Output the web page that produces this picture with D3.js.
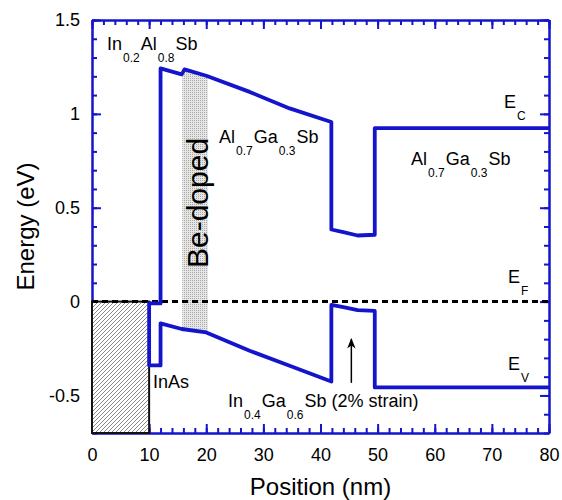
<!DOCTYPE html>
<html>
<head>
<meta charset="utf-8">
<script src="https://cdn.jsdelivr.net/npm/d3@7"></script>
<style>
  body { margin: 0; background: #fff; }
  text { font-family: "Liberation Sans", Arial, sans-serif; }
</style>
</head>
<body>
<div id="chart"></div>
<script>
// band edges (nm, eV)
const ecX = [10, 12, 12, 15.7, 16.2, 20, 27.6, 34.6, 41.9, 41.9, 44, 46.5, 49.5, 49.5, 80];
const ecE = [-0.01, -0.01, 1.242, 1.21, 1.237, 1.203, 1.117, 1.029, 0.957, 0.384, 0.37, 0.352, 0.356, 0.924, 0.924];
const evX = [10, 10, 12, 12, 15.7, 20, 27.6, 34.6, 41.9, 41.9, 44, 46.5, 49.5, 49.5, 80];
const evE = [0, -0.34, -0.34, -0.116, -0.146, -0.164, -0.262, -0.342, -0.426, -0.018, -0.03, -0.045, -0.05, -0.457, -0.457];
const efX = [0, 80];
const efE = [0, 0];
const dopedRange = [15.8, 20.3];
const contactRange = [0, 10];
const xTicks = [0, 10, 20, 30, 40, 50, 60, 70, 80];
const yTicks = [-0.5, 0, 0.5, 1, 1.5];

const width = 562;
const height = 500;
const margin = { top: 20, right: 13, bottom: 67, left: 92 };
const blue = "#1414cc";

const svg = d3.select("#chart").append("svg")
    .attr("width", width)
    .attr("height", height);

const x = d3.scaleLinear().domain([0, 80]).range([margin.left, width - margin.right]);
const y = d3.scaleLinear().domain([-0.7, 1.5]).range([height - margin.bottom, margin.top]);

const defs = svg.append("defs");
const hatch = defs.append("pattern")
    .attr("id", "hatch")
    .attr("patternUnits", "userSpaceOnUse")
    .attr("width", 4).attr("height", 4);
hatch.append("rect").attr("width", 4).attr("height", 4).attr("fill", "#fff");
hatch.append("path").attr("d", "M-1,1 L1,-1 M0,4 L4,0 M3,5 L5,3")
    .attr("stroke", "#8a8a8a").attr("stroke-width", 1);

const dots = defs.append("pattern")
    .attr("id", "dots")
    .attr("patternUnits", "userSpaceOnUse")
    .attr("width", 2).attr("height", 2);
dots.append("rect").attr("width", 2).attr("height", 2).attr("fill", "#e6e6e6");
dots.append("rect").attr("width", 1).attr("height", 1).attr("fill", "#a8a8a8");

defs.append("clipPath").attr("id", "dopedClip")
    .append("rect")
    .attr("x", x(dopedRange[0]))
    .attr("width", x(dopedRange[1]) - x(dopedRange[0]))
    .attr("y", 0).attr("height", height);

defs.append("marker")
    .attr("id", "arrow")
    .attr("viewBox", "0 0 10 10")
    .attr("refX", 9).attr("refY", 5)
    .attr("markerWidth", 7).attr("markerHeight", 7)
    .attr("orient", "auto")
    .append("path")
    .attr("d", "M0,1 L10,5 L0,9 L3,5 Z")
    .attr("fill", "#000");

const ec = ecX.map((v, i) => [v, ecE[i]]);
const ev = evX.map((v, i) => [v, evE[i]]);

// Be-doped shading between the band edges
const poly = ec.concat(ev.slice().reverse());
svg.append("path")
    .attr("d", d3.line().x(d => x(d[0])).y(d => y(d[1]))(poly) + "Z")
    .attr("fill", "url(#dots)")
    .attr("clip-path", "url(#dopedClip)");

// axes (ticks inward, mirrored)
const tickText = g => g.selectAll("text").style("font-size", "18px").attr("fill", "#000");
const styleAxis = g => {
    g.selectAll(".domain").attr("stroke", blue).attr("stroke-width", 2);
    g.selectAll(".tick line").attr("stroke", blue).attr("stroke-width", 2);
};
const minorX = d3.range(0, 81, 2);
const minorY = d3.range(-7, 16).map(d => d / 10);

svg.append("g")
    .attr("transform", `translate(0,${y(-0.7)})`)
    .call(d3.axisBottom(x).tickValues(minorX).tickSizeInner(-5).tickSizeOuter(0).tickFormat(""))
    .call(styleAxis);
svg.append("g")
    .attr("transform", `translate(0,${y(-0.7)})`)
    .call(d3.axisBottom(x).tickValues(xTicks).tickSizeInner(-9).tickSizeOuter(0).tickPadding(15).tickFormat(d3.format("d")))
    .call(styleAxis).call(tickText);
svg.append("g")
    .attr("transform", `translate(0,${y(1.5)})`)
    .call(d3.axisTop(x).tickValues(minorX).tickSizeInner(-5).tickSizeOuter(0).tickFormat(""))
    .call(styleAxis);
svg.append("g")
    .attr("transform", `translate(0,${y(1.5)})`)
    .call(d3.axisTop(x).tickValues(xTicks).tickSizeInner(-9).tickSizeOuter(0).tickFormat(""))
    .call(styleAxis);

svg.append("g")
    .attr("transform", `translate(${x(0)},0)`)
    .call(d3.axisLeft(y).tickValues(minorY).tickSizeInner(-5).tickSizeOuter(0).tickFormat(""))
    .call(styleAxis);
svg.append("g")
    .attr("transform", `translate(${x(0)},0)`)
    .call(d3.axisLeft(y).tickValues(yTicks).tickSizeInner(-9).tickSizeOuter(0).tickPadding(12).tickFormat(d => String(d)))
    .call(styleAxis).call(tickText);
svg.append("g")
    .attr("transform", `translate(${x(80)},0)`)
    .call(d3.axisRight(y).tickValues(minorY).tickSizeInner(-5).tickSizeOuter(0).tickFormat(""))
    .call(styleAxis);
svg.append("g")
    .attr("transform", `translate(${x(80)},0)`)
    .call(d3.axisRight(y).tickValues(yTicks).tickSizeInner(-9).tickSizeOuter(0).tickFormat(""))
    .call(styleAxis);

// hatched contact region
svg.append("rect")
    .attr("x", x(contactRange[0]))
    .attr("y", y(0))
    .attr("width", x(contactRange[1]) - x(contactRange[0]))
    .attr("height", y(-0.7) - y(0))
    .attr("fill", "url(#hatch)")
    .attr("stroke", "#111")
    .attr("stroke-width", 2);

// Fermi level
svg.append("path")
    .attr("d", d3.line().x(d => x(d)).y((d, i) => y(efE[i]))(efX))
    .attr("fill", "none")
    .attr("stroke", "#000")
    .attr("stroke-width", 3)
    .attr("stroke-dasharray", "6,4");

const line = d3.line().x(d => x(d[0])).y(d => y(d[1]));
[ec, ev].forEach(data => {
    svg.append("path")
        .attr("d", line(data))
        .attr("fill", "none")
        .attr("stroke", blue)
        .attr("stroke-width", 3.8)
        .attr("stroke-linejoin", "round");
});

// labels with subscripts
function label(px, py, parts, size = 18) {
    const t = svg.append("text").attr("x", px).attr("y", py).style("font-size", size + "px");
    let sub = false;
    parts.forEach(([s, isSub]) => {
        const ts = t.append("tspan").text(s).attr("dx", 1);
        if (isSub) {
            ts.style("font-size", "12px");
            if (!sub) { ts.attr("dy", 12); sub = true; }
        } else if (sub) {
            ts.attr("dy", -12);
            sub = false;
        }
    });
}
label(106, 50, [["In", 0], ["0.2", 1], ["Al", 0], ["0.8", 1], ["Sb", 0]]);
label(218, 143, [["Al", 0], ["0.7", 1], ["Ga", 0], ["0.3", 1], ["Sb", 0]]);
label(410, 165, [["Al", 0], ["0.7", 1], ["Ga", 0], ["0.3", 1], ["Sb", 0]]);
label(503, 108, [["E", 0], ["C", 1]]);
label(507, 283, [["E", 0], ["F", 1]]);
label(507, 370, [["E", 0], ["V", 1]]);
label(152, 388, [["InAs", 0]]);
label(227, 407, [["In", 0], ["0.4", 1], ["Ga", 0], ["0.6", 1], ["Sb (2% strain)", 0]]);

svg.append("text")
    .attr("transform", "translate(208,203) rotate(-90)")
    .attr("text-anchor", "middle")
    .style("font-size", "30px")
    .text("Be-doped");

// arrow
svg.append("line")
    .attr("x1", x(45.4)).attr("x2", x(45.4))
    .attr("y1", y(-0.433)).attr("y2", y(-0.2))
    .attr("stroke", "#000").attr("stroke-width", 1.5)
    .attr("marker-end", "url(#arrow)");

// axis titles
svg.append("text")
    .attr("x", (margin.left + width - margin.right) / 2)
    .attr("y", 495)
    .attr("text-anchor", "middle")
    .style("font-size", "24px")
    .text("Position (nm)");
svg.append("text")
    .attr("transform", `translate(34,${(margin.top + height - margin.bottom) / 2}) rotate(-90)`)
    .attr("text-anchor", "middle")
    .style("font-size", "24px")
    .text("Energy (eV)");
</script>
</body>
</html>
